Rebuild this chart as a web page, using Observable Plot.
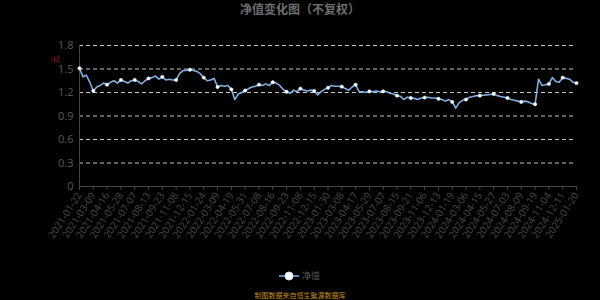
<!DOCTYPE html>
<html>
<head>
<meta charset="utf-8">
<script src="https://cdn.jsdelivr.net/npm/d3@7"></script>
<script src="https://cdn.jsdelivr.net/npm/@observablehq/plot@0.6"></script>
<style>
  html, body { margin: 0; padding: 0; background: #000; }
  #wrap { position: relative; width: 600px; height: 300px; background: #000; overflow: hidden;
          font-family: "Noto Sans", "Noto Sans CJK SC", sans-serif; }
  #title { position: absolute; left: 0; width: 600px; top: 0px; text-align: center;
           font-size: 12px; font-weight: bold; color: #6e6e6e; font-family: "Noto Sans CJK SC", sans-serif; }
  #unit { position: absolute; left: 50px; top: 54px; font-size: 8px; color: #9b1c1c;
          transform: rotate(-90deg); font-family: "Noto Sans CJK SC", sans-serif; }
  #legend { position: absolute; left: 0; width: 600px; top: 268px; height: 16px; }
  #legend svg { position: absolute; left: 279px; top: 0; }
  #legend span { position: absolute; left: 302px; top: 1px; font-size: 9px; color: #5a5a5a;
                 font-family: "Noto Sans CJK SC", sans-serif; }
  #caption { position: absolute; left: 0; width: 600px; top: 290px; text-align: center;
             font-size: 7px; color: #c2901c; font-family: "Noto Sans CJK SC", sans-serif; }
  #chart { position: absolute; left: 0; top: 0; }
</style>
</head>
<body>
<div id="wrap">
  <div id="chart"></div>
  <div id="title">净值变化图（不复权）</div>
  <div id="unit">元</div>
  <div id="legend">
    <svg width="20" height="16"><line x1="0" y1="8" x2="20" y2="8" stroke="#80aee0" stroke-width="1.5"/><circle cx="10" cy="8" r="4" fill="#fff" stroke="#cfe0f5" stroke-width="1"/></svg>
    <span>净值</span>
  </div>
  <div id="caption">制图数据来自恒生聚源数据库</div>
</div>
<script>
// Tick labels (category axis dates)
const xLabels = [
  "2021-01-22","2021-03-09","2021-04-16","2021-05-28","2021-07-07","2021-08-13","2021-09-23",
  "2021-11-08","2021-12-15","2022-01-24","2022-03-09","2022-04-19","2022-05-31","2022-07-08",
  "2022-08-16","2022-09-23","2022-11-08","2022-12-15","2023-01-30","2023-03-08","2023-04-17",
  "2023-05-29","2023-07-07","2023-08-15","2023-09-21","2023-11-06","2023-12-13","2024-01-19",
  "2024-03-06","2024-04-15","2024-05-27","2024-07-03","2024-08-09","2024-09-19","2024-11-04",
  "2024-12-11","2025-01-20"
];
// Net value readings, four per label interval (first of each group sits on the label)
const navValues = [
  1.51, 1.40, 1.42, 1.33,
  1.22, 1.27, 1.29, 1.32,
  1.30, 1.33, 1.35, 1.32,
  1.36, 1.34, 1.32, 1.35,
  1.36, 1.34, 1.31, 1.35,
  1.38, 1.39, 1.41, 1.37,
  1.40, 1.36, 1.37, 1.36,
  1.36, 1.44, 1.48, 1.48,
  1.49, 1.48, 1.47, 1.44,
  1.39, 1.35, 1.36, 1.38,
  1.27, 1.29, 1.28, 1.29,
  1.24, 1.11, 1.18, 1.20,
  1.225, 1.25, 1.27, 1.28,
  1.30, 1.29, 1.31, 1.29,
  1.33, 1.32, 1.29, 1.24,
  1.21, 1.19, 1.23, 1.21,
  1.25, 1.23, 1.22, 1.23,
  1.22, 1.17, 1.21, 1.24,
  1.26, 1.29, 1.28, 1.28,
  1.275, 1.25, 1.23, 1.27,
  1.30, 1.21, 1.21, 1.20,
  1.215, 1.21, 1.22, 1.21,
  1.215, 1.21, 1.19, 1.18,
  1.16, 1.15, 1.11, 1.14,
  1.13, 1.125, 1.11, 1.13,
  1.135, 1.14, 1.13, 1.13,
  1.12, 1.11, 1.09, 1.11,
  1.08, 1.00, 1.07, 1.10,
  1.11, 1.14, 1.15, 1.16,
  1.16, 1.165, 1.17, 1.175,
  1.18, 1.16, 1.15, 1.14,
  1.13, 1.11, 1.10, 1.09,
  1.08, 1.09, 1.08, 1.06,
  1.05, 1.37, 1.29, 1.30,
  1.31, 1.39, 1.34, 1.33,
  1.39, 1.38, 1.37, 1.33,
  1.32
];
const yTicks = [0, 0.3, 0.6, 0.9, 1.2, 1.5, 1.8];
const stepsPerLabel = 4;

const data = navValues.map((v, i) => ({ x: i / stepsPerLabel, v }));
const dots = data.filter((d, i) => i % stepsPerLabel === 0);
const lineColor = "#80aee0";

const chart = Plot.plot({
  width: 600,
  height: 300,
  marginTop: 45,
  marginBottom: 114,
  marginLeft: 79,
  marginRight: 24,
  style: { background: "#000", fontFamily: "'Noto Sans', 'Noto Sans CJK SC', sans-serif" },
  x: { domain: [0, xLabels.length - 1] },
  y: { domain: [0, 1.8] },
  marks: [
    Plot.ruleY(yTicks.filter(t => t > 0), { stroke: "#c8c8c8", strokeWidth: 1, strokeDasharray: "4,3" }),
    Plot.ruleX([0], { y1: 0, y2: 1.8, stroke: "#444" }),
    Plot.ruleY([0], { stroke: "#444" }),
    Plot.axisY({ ticks: yTicks, tickSize: 0, tickPadding: 6, tickFormat: d => String(d),
                 fontSize: 11, color: "#555", label: null }),
    Plot.axisX({ ticks: d3.range(xLabels.length), tickFormat: i => xLabels[i], tickRotate: -57,
                 tickSize: 4, tickPadding: 3, fontSize: 10, color: "#454545", stroke: "#444", label: null }),
    Plot.line(data, { x: "x", y: "v", stroke: lineColor, strokeWidth: 1.6 }),
    Plot.dot(dots, { x: "x", y: "v", r: 1.7, fill: "#fff", stroke: "#d8e6f7", strokeWidth: 0.5 })
  ]
});
document.getElementById("chart").appendChild(chart);
</script>
</body>
</html>
